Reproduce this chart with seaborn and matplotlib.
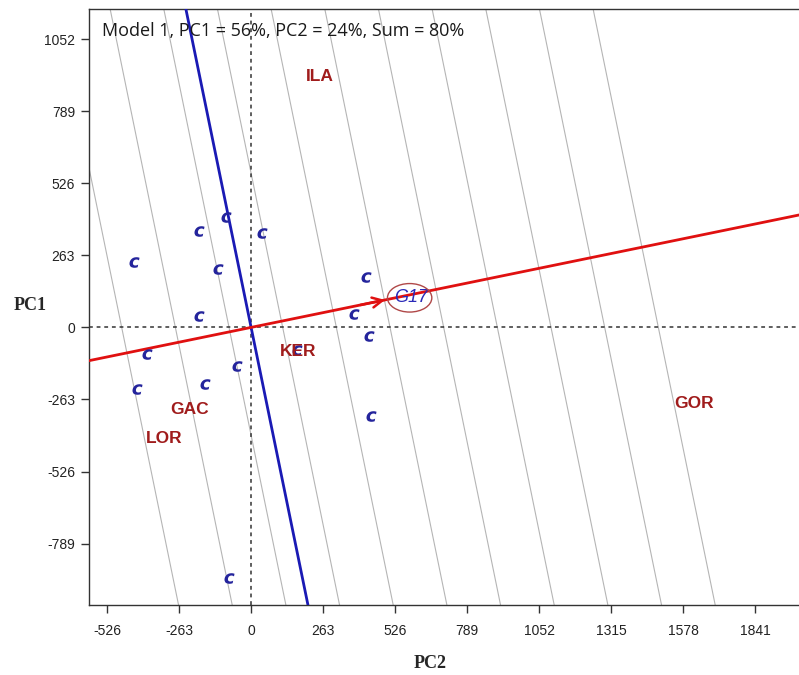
import numpy as np
import pandas as pd
import matplotlib
matplotlib.use("Agg")
import matplotlib.pyplot as plt
from matplotlib.patches import Ellipse
import seaborn as sns

# ---- data ----
geno_pc2 = [-91, -190, 40, -427, -121, 420, -190, 376, 431, -380, -51, 168, -416, -168, 438, -80]
geno_pc1 = [404, 352, 345, 239, 214, 184, 42, 49, -31, -97, -141, -82, -225, -206, -323, -915]

env_names = ["ILA", "KER", "GAC", "LOR", "GOR"]
env_pc2 = [252, 172, -223, -318, 1618]
env_pc1 = [915, -89, -301, -404, -276]

g17_name = "G17"
g17_pc2 = 584
g17_pc1 = 108
g17_arrow_pc2 = 499          # arrow tip along the average environment axis

aea_slope = 0.205            # slope of average environment axis (red)
perp_offsets = [-463, -271, -79, 113, 305, 497, 689, 881, 1073, 1265, 1457]  # projections on AEA

xticks = [-526, -263, 0, 263, 526, 789, 1052, 1315, 1578, 1841]
yticks = [-789, -526, -263, 0, 263, 526, 789, 1052]
title_text = "Model 1, PC1 = 56%, PC2 = 24%, Sum = 80%"

# ---- figure ----
sns.set_style("white")
fig = plt.figure(figsize=(7.99, 6.75), dpi=100)
ax = fig.add_axes([0.1114, 0.1037, 0.8886, 0.8830])

xlim = (-592, 2001)
ylim = (-1013, 1162)
ax.set_xlim(*xlim)
ax.set_ylim(*ylim)

norm = np.sqrt(1 + aea_slope ** 2)
# perpendicular gray lines: x + s*y = p*norm
yy = np.array(ylim)
for p in perp_offsets:
    xx = p * norm - aea_slope * yy
    sns.lineplot(x=xx, y=yy, ax=ax, color="#b5b5b5", linewidth=0.8, sort=False, zorder=1)

# dotted zero axes
ax.axhline(0, color="#333333", linestyle=(0, (2.5, 2.5)), linewidth=1.1, zorder=2)
ax.axvline(0, color="#333333", linestyle=(0, (2.5, 2.5)), linewidth=1.1, zorder=2)

# blue (perpendicular through origin) and red (AEA) lines
xb = -aea_slope * yy
sns.lineplot(x=xb, y=yy, ax=ax, color="#1a1ab4", linewidth=2.0, sort=False, zorder=3)
xr = np.array(xlim)
sns.lineplot(x=xr, y=aea_slope * xr, ax=ax, color="#e01010", linewidth=2.0, sort=False, zorder=3)

# genotypes
df = pd.DataFrame({"PC2": geno_pc2, "PC1": geno_pc1})
sns.scatterplot(data=df, x="PC2", y="PC1", ax=ax, marker=r"$\boldsymbol{c}$", s=58,
                color="#24249c", linewidth=0, zorder=5)

# environments
for n, x, y in zip(env_names, env_pc2, env_pc1):
    ax.text(x, y, n, color="#a01c1c", fontsize=12.5, fontweight="bold",
            family="Liberation Sans", ha="center", va="center", zorder=6)

# G17 with arrow and ellipse
ax.annotate("", xy=(g17_arrow_pc2, aea_slope * g17_arrow_pc2),
            xytext=(g17_arrow_pc2 - 110, aea_slope * (g17_arrow_pc2 - 110)),
            arrowprops=dict(arrowstyle="->", color="#e01010", lw=1.8,
                            mutation_scale=18), zorder=6)
ax.text(g17_pc2, g17_pc1, g17_name, color="#2a2ab8", fontsize=13, style="italic",
        family="Liberation Sans", ha="center", va="center", zorder=7)
ax.add_patch(Ellipse((g17_pc2 - 5, g17_pc1), 162, 104, fill=False,
                     edgecolor="#b04848", linewidth=1.0, zorder=7))

# title inside
ax.text(0.019, 0.978, title_text, transform=ax.transAxes, fontsize=13,
        family="Open Sans", ha="left", va="top", color="#1a1a1a", zorder=8)

# ticks
ax.set_xticks(xticks)
ax.set_yticks(yticks)
ax.set_xticklabels([str(t) for t in xticks], family="Liberation Sans", fontsize=10)
ax.set_yticklabels([str(t) for t in yticks], family="Liberation Sans", fontsize=10)
ax.tick_params(axis="both", direction="out", length=6, width=1, color="#333333",
               labelcolor="#222222", bottom=True, left=True, pad=4)
ax.tick_params(axis="x", pad=8)

for s in ["left", "bottom", "top"]:
    ax.spines[s].set_color("#333333")
    ax.spines[s].set_linewidth(1.0)
ax.spines["right"].set_visible(False)

ax.set_xlabel("")
ax.set_ylabel("")
fig.text(430 / 799, 1 - 663 / 675, "PC2", family="Liberation Serif", fontweight="bold",
         fontsize=13, ha="center", va="center")
fig.text(30 / 799, 1 - 305 / 675, "PC1", family="Liberation Serif", fontweight="bold",
         fontsize=13, ha="center", va="center")

fig.savefig("out.png", dpi=100)
